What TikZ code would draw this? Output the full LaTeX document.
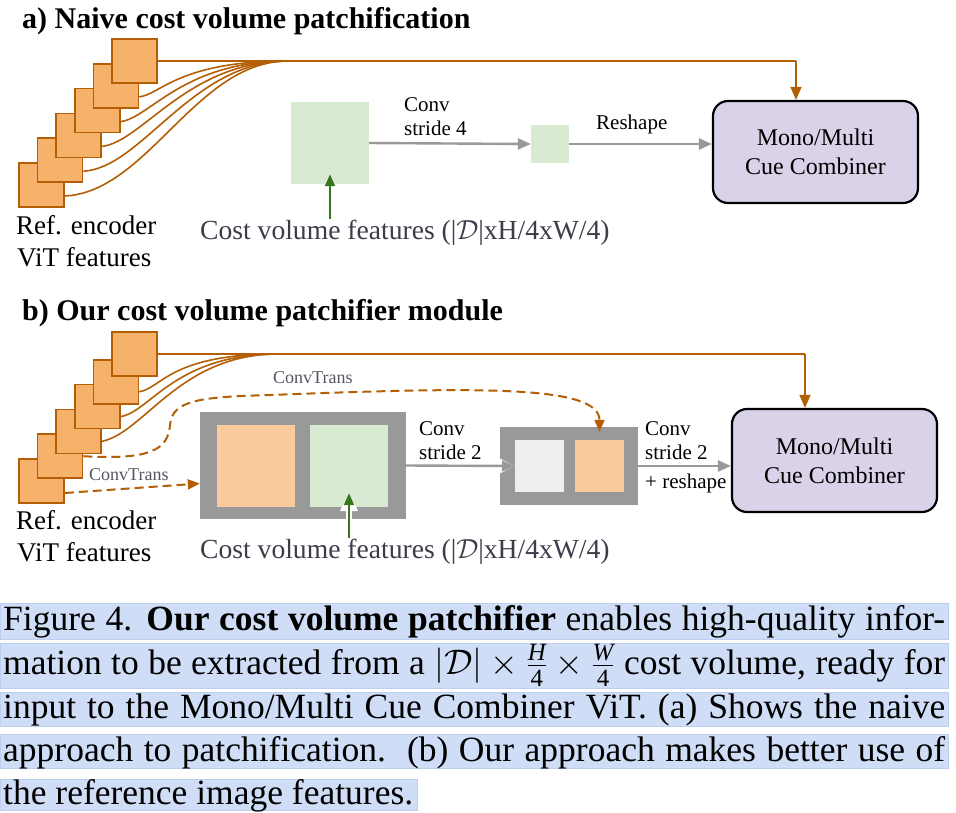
\RequirePackage{fix-cm}
\documentclass[tikz,border=0pt]{standalone}
\usepackage{amsmath}
\usepackage{fontspec}
\setmainfont{Liberation Serif}
\usetikzlibrary{arrows.meta,calc}
\definecolor{ordk}{HTML}{B45F06}
\definecolor{orfill}{HTML}{F6B26B}
\definecolor{orlight}{HTML}{F9CB9C}
\definecolor{grfill}{HTML}{D9EAD3}
\definecolor{grdk}{HTML}{38761D}
\definecolor{lav}{HTML}{D9D2E9}
\definecolor{frgray}{HTML}{999999}
\definecolor{ltgray}{HTML}{EFEFEF}
\definecolor{hl}{RGB}{208,221,246}
\definecolor{hlb}{RGB}{190,206,240}
\definecolor{costtxt}{RGB}{60,60,75}
\definecolor{smalltxt}{RGB}{85,85,100}
\begin{document}
\begin{tikzpicture}[x=1pt,y=-1pt,
  sq/.style={draw=ordk,fill=orfill,line width=1.6pt,minimum width=45pt,minimum height=44pt,inner sep=0pt},
  oline/.style={draw=ordk,line width=1.6pt},
  oarrow/.style={draw=ordk,line width=1.6pt,-{Triangle[length=13pt,width=11pt]}},
  odash/.style={draw=ordk,line width=2pt,dash pattern=on 9pt off 5pt,-{Triangle[length=12pt,width=10pt]}},
  garrow/.style={draw=frgray,line width=2.4pt,-{Triangle[length=13pt,width=11pt]}},
  halo/.style={draw=white,line width=6pt,-{Triangle[length=18pt,width=17pt]}},
  greenarrow/.style={draw=grdk,line width=2.2pt,-{Triangle[length=12pt,width=10pt]}},
  box/.style={inner sep=0pt,draw=none},
  comb/.style={draw=black,line width=2.2pt,fill=lav,rounded corners=15pt,minimum width=205pt,minimum height=102pt,align=center,font=\fontsize{24}{29}\selectfont,inner sep=0pt},
  lbl/.style={anchor=base west,inner sep=0pt,font=\fontsize{21}{25}\selectfont},
  ctlbl/.style={anchor=base west,inner sep=0pt,font=\fontsize{18}{22}\selectfont,text=smalltxt},
  big/.style={anchor=base west,inner sep=0pt,font=\fontsize{27}{32}\selectfont},
  costlbl/.style={anchor=base west,inner sep=0pt,font=\fontsize{27.6}{32}\selectfont,text=costtxt},
  ttl/.style={anchor=base west,inner sep=0pt,font=\bfseries\fontsize{30}{36}\selectfont},
  captxt/.style={anchor=base west,inner sep=0pt,font=\fontsize{35.5}{43}\selectfont},
]
\useasboundingbox (0,0) rectangle (956,812);
\fill[white] (0,0) rectangle (956,812);

% ---------------- caption highlights ----------------
\fill[hl,draw=hlb,line width=0.6pt] (0,603) rectangle (948,639);
\fill[hl,draw=hlb,line width=0.6pt] (0,643) rectangle (948,688);
\fill[hl,draw=hlb,line width=0.6pt] (0,692) rectangle (948,726);
\fill[hl,draw=hlb,line width=0.6pt] (0,734) rectangle (948,768);
\fill[hl,draw=hlb,line width=0.6pt] (0,779) rectangle (417,810);

% ---------------- (a) ----------------
\node[ttl] (titleA) at (22,28) {a) Naive cost volume patchification};

\node[sq] (A6) at (41.5,185) {};
\node[sq] (A5) at (60.1,160.2) {};
\node[sq] (A4) at (78.7,135.4) {};
\node[sq] (A3) at (97.3,110.6) {};
\node[sq] (A2) at (115.9,85.8) {};
\node[sq] (A1) at (134.5,61) {};

\coordinate (jA) at (288,61);
\node[comb] (comA) at (815.5,152) {Mono/Multi\\Cue Combiner};
\coordinate (tapA) at (796,61);
\draw[oline] (A1.east) -- (tapA);
\draw[oarrow] (tapA) -- (comA.north -| tapA);

\draw[oline] ($(A2.east)+(0,11)$) .. controls (160,95) and (178,61) .. (jA);
\draw[oline] ($(A3.east)+(0,11)$) .. controls (150,118) and (183,61) .. (jA);
\draw[oline] ($(A4.east)+(0,11)$) .. controls (142,142) and (188,61) .. (jA);
\draw[oline] ($(A5.east)+(0,11)$) .. controls (142,168) and (192,61) .. (jA);
\draw[oline] ($(A6.east)+(0,11)$) .. controls (148,192) and (196,61) .. (jA);

\node[box,fill=grfill,minimum width=78pt,minimum height=82pt] (gA1) at (330,143) {};
\node[box,fill=grfill,minimum width=38pt,minimum height=38pt] (gA2) at (550,144) {};
\draw[garrow] (gA1.east) -- (gA2.west);
\draw[garrow] (gA2.east) -- (gA2.east -| comA.west);
\node[lbl] (convA1) at (404,111) {Conv};
\node[lbl] (convA2) at (404,135) {stride 4};
\node[lbl] (reshA) at (596,129) {Reshape};

\node[big] (refA1) at (16,234) {Ref. encoder};
\node[big] (refA2) at (17,266) {ViT features};
\node[costlbl] (costA) at (200,239) {Cost volume features (|$\mathcal{D}$|xH/4xW/4)};
\draw[halo] (gA1.south |- costA.north) -- ($(gA1.south)+(0,-10)$);
\draw[greenarrow] (gA1.south |- costA.north) -- ($(gA1.south)+(0,-10)$);

% ---------------- (b) ----------------
\node[ttl] (titleB) at (22,320) {b) Our cost volume patchifier module};

\node[sq] (B6) at (41.5,481) {};
\node[sq] (B5) at (60.1,456.2) {};
\node[sq] (B4) at (78.7,431.4) {};
\node[sq] (B3) at (97.3,406.6) {};
\node[sq] (B2) at (115.9,381.8) {};
\node[sq] (B1) at (134.5,354) {};

\coordinate (jB) at (278,354);
\node[comb,minimum height=103pt] (comB) at (834.5,460.5) {Mono/Multi\\Cue Combiner};
\coordinate (tapB) at (805,354);
\draw[oline] (B1.east) -- (tapB);
\draw[oarrow] (tapB) -- (comB.north -| tapB);

\draw[oline] ($(B2.east)+(0,10)$) .. controls (162,388) and (170,354) .. (jB);
\draw[oline] ($(B3.east)+(0,10)$) .. controls (150,412) and (175,354) .. (jB);
\draw[oline] ($(B4.east)+(0,10)$) .. controls (145,432) and (180,354) .. (jB);

\node[box,fill=frgray,minimum width=206pt,minimum height=107pt] (F1) at (303,465.5) {};
\node[box,fill=orlight,minimum width=78pt,minimum height=82pt] (o1) at (256,466) {};
\node[box,fill=grfill,minimum width=78pt,minimum height=82pt] (g1) at (349,466) {};
\node[box,fill=frgray,minimum width=138pt,minimum height=78pt] (F2) at (569,466) {};
\node[box,fill=ltgray,minimum width=49pt,minimum height=52pt] (L2) at (539.5,466) {};
\node[box,fill=orlight,minimum width=49pt,minimum height=52pt] (o2) at (599.5,466) {};

\draw[odash,shorten >=8pt] (B5.east) .. controls (150,460) and (168,450) .. (170,425)
   .. controls (172,400) and (200,397) .. (270,395)
   .. controls (480,387) and (599.5,385) .. (o2.north);
\node[ctlbl] (ctB1) at (273,383) {ConvTrans};
\draw[odash] ($(B6.east)+(0,12)$) -- ($(F1.west)+(0,18)$);
\node[ctlbl] (ctB2) at (89,480) {ConvTrans};

\draw[halo] (F1.east) -- (L2.west);
\draw[garrow] (F1.east) -- (L2.west);
\draw[garrow] (F2.east) -- (F2.east -| comB.west);
\node[lbl] (convB1) at (419,435) {Conv};
\node[lbl] (convB2) at (419,459) {stride 2};
\node[lbl] (convB3) at (645,435) {Conv};
\node[lbl] (convB4) at (645,459) {stride 2};
\node[lbl] (reshB) at (645,488) {+ reshape};

\node[big] (refB1) at (16,529) {Ref. encoder};
\node[big] (refB2) at (17,561) {ViT features};
\node[costlbl] (costB) at (200,558) {Cost volume features (|$\mathcal{D}$|xH/4xW/4)};
\draw[halo] (g1.south |- costB.north) -- ($(g1.south)+(0,-14)$);
\draw[greenarrow] (g1.south |- costB.north) -- ($(g1.south)+(0,-14)$);

% ---------------- caption ----------------
\node[captxt] (cap1) at (3,630) {\hbox to 942pt{Figure 4. \textbf{Our cost volume patchifier} enables high-quality infor-}};
\node[captxt] (cap2) at (3,674) {\hbox to 942pt{mation to be extracted from a $|\mathcal{D}|\times\frac{\text{\itshape H}}{\text{4}}\times\frac{\text{\itshape W}}{\text{4}}$ cost volume, ready for}};
\node[captxt] (cap3) at (3,718) {\hbox to 942pt{input to the Mono/Multi Cue Combiner ViT. (a) Shows the naive}};
\node[captxt] (cap4) at (3,761) {\hbox to 942pt{approach to patchification.\ \ (b) Our approach makes better use of}};
\node[captxt] (cap5) at (3,804) {the reference image features.};
\end{tikzpicture}
\end{document}
